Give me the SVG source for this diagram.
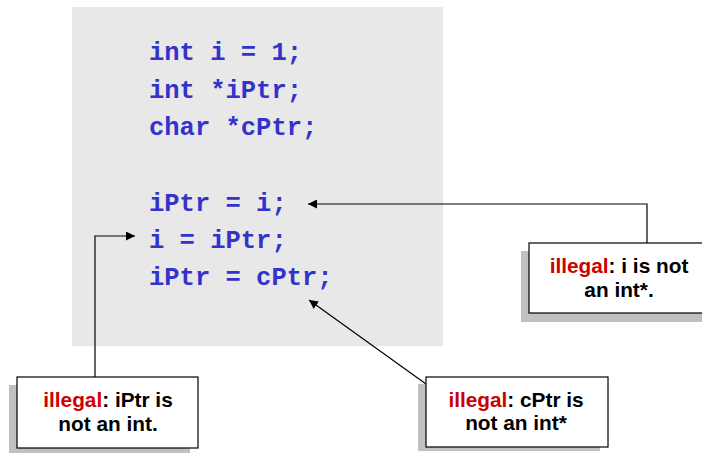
<svg xmlns="http://www.w3.org/2000/svg" width="702" height="453" viewBox="0 0 702 453">
<defs>
<style>
.code{font-family:"Liberation Mono","Courier New",monospace;font-weight:bold;font-size:25.5px;fill:#3333cc}
.note{font-family:"Liberation Sans",Arial,sans-serif;font-weight:bold;font-size:20.8px;fill:#000;text-anchor:middle}
.red{fill:#cc0000}
.box{fill:#fff;stroke:#000;stroke-width:1.2}
.shadow{fill:#c0c0c0}
.conn{fill:none;stroke:#000;stroke-width:1.2}
</style>
<marker id="ah" viewBox="0 0 10 10" refX="10" refY="5" markerWidth="9" markerHeight="9" markerUnits="userSpaceOnUse" orient="auto">
<path d="M0,0 L10,5 L0,10 z" fill="#000"/>
</marker>
</defs>
<rect x="72" y="7" width="371" height="339" fill="#e8e8e8"/>
<g id="code">
<text class="code" x="149" y="60">int i = 1;</text>
<text class="code" x="149" y="98">int *iPtr;</text>
<text class="code" x="149" y="135">char *cPtr;</text>
<text class="code" x="149" y="211">iPtr = i;</text>
<text class="code" x="149" y="248">i = iPtr;</text>
<text class="code" x="149" y="285">iPtr = cPtr;</text>
</g>
<g id="connectors">
<path class="conn" d="M647,243 V204 H308" marker-end="url(#ah)"/>
<path class="conn" d="M95,377 V236 H135" marker-end="url(#ah)"/>
<path class="conn" d="M426,384 L309,300" marker-end="url(#ah)"/>
</g>
<g id="note-right">
<rect class="shadow" x="521" y="251" width="190" height="71"/>
<rect class="box" x="529" y="243" width="190" height="70"/>
<text class="note" x="619" y="273"><tspan class="red">illegal</tspan>: i is not</text>
<text class="note" x="619" y="297">an int*.</text>
</g>
<g id="note-left">
<rect class="shadow" x="9" y="385" width="181" height="70"/>
<rect class="box" x="17" y="377" width="181" height="71"/>
<text class="note" x="108" y="407"><tspan class="red">illegal</tspan>: iPtr is</text>
<text class="note" x="108" y="431">not an int.</text>
</g>
<g id="note-bottom">
<rect class="shadow" x="418" y="384" width="182" height="67"/>
<rect class="box" x="426" y="377" width="182" height="70"/>
<text class="note" x="516" y="407"><tspan class="red">illegal</tspan>: cPtr is</text>
<text class="note" x="516" y="430">not an int*</text>
</g>
</svg>
